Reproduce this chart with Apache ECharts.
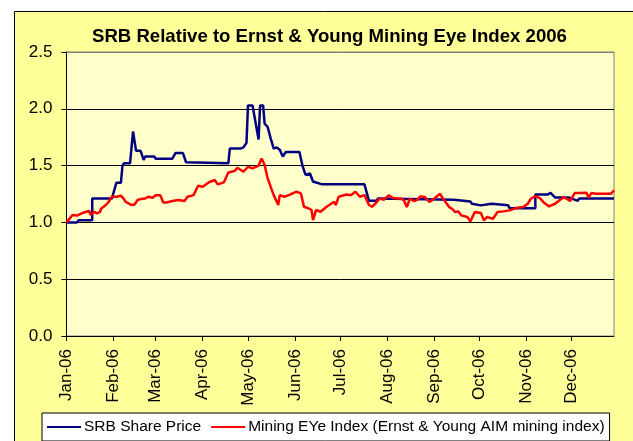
<!DOCTYPE html>
<html>
<head>
<meta charset="utf-8">
<script src="https://cdn.jsdelivr.net/npm/echarts@6/dist/echarts.min.js"></script>
<style>
    html, body { margin: 0; padding: 0; background: #fff; }
    #chart { width: 633px; height: 441px; }
</style>
</head>
<body>
<div id="chart"></div>
<script>
// x = days since 1 Jan 2006, y = price relative to 1 Jan
const monthStarts = [0, 31, 59, 90, 120, 151, 181, 212, 243, 273, 304, 334]
const monthLabels = ['Jan-06', 'Feb-06', 'Mar-06', 'Apr-06', 'May-06', 'Jun-06',
    'Jul-06', 'Aug-06', 'Sep-06', 'Oct-06', 'Nov-06', 'Dec-06']

const srbData = [
    [0, 1.00], [7, 1.00], [8, 1.02], [17, 1.02], [17, 1.21], [30, 1.21], [33, 1.35], [36, 1.35],
    [37, 1.50], [38, 1.52], [42, 1.52], [44, 1.80], [46, 1.63], [49, 1.63], [51, 1.55], [52, 1.58],
    [58, 1.58], [59, 1.56], [70, 1.56], [72, 1.61], [77, 1.61], [79, 1.53], [80, 1.52], [107, 1.52],
    [108, 1.65], [115, 1.65], [117, 1.66], [119, 1.70], [120, 2.03], [123, 2.03], [127, 1.73],
    [128, 2.03], [130, 2.03], [131, 1.87], [133, 1.84], [135, 1.74], [137, 1.65], [139, 1.66],
    [141, 1.64], [143, 1.58], [145, 1.62], [154, 1.62], [156, 1.50], [158, 1.42], [161, 1.43],
    [163, 1.36], [169, 1.335], [197, 1.335], [200, 1.19], [205, 1.19], [206, 1.21], [256, 1.20],
    [257, 1.185], [267, 1.185], [268, 1.165], [274, 1.15], [275, 1.165], [281, 1.165], [282, 1.15],
    [292, 1.15], [293, 1.125], [310, 1.125], [310, 1.245], [318, 1.245], [320, 1.26], [323, 1.22],
    [332, 1.22], [338, 1.19], [339, 1.21], [362, 1.21]
]

const eyeData = [
    [0, 1.00], [4, 1.065], [7, 1.06], [10, 1.08], [13, 1.094], [15, 1.10], [16, 1.065], [18, 1.094],
    [20, 1.08], [22, 1.09], [23, 1.123], [26, 1.153], [28, 1.182], [30, 1.226], [31, 1.24], [33, 1.226],
    [36, 1.235], [38, 1.205], [39, 1.182], [41, 1.167], [43, 1.153], [45, 1.158], [47, 1.197], [49, 1.205],
    [52, 1.21], [54, 1.226], [57, 1.217], [59, 1.24], [62, 1.24], [64, 1.176], [66, 1.176], [70, 1.188],
    [74, 1.197], [78, 1.188], [80, 1.226], [84, 1.24], [87, 1.323], [90, 1.314], [94, 1.352], [98, 1.373],
    [100, 1.335], [104, 1.352], [107, 1.44], [111, 1.452], [113, 1.481], [117, 1.446], [120, 1.49],
    [123, 1.475], [127, 1.50], [129, 1.563], [131, 1.505], [133, 1.387], [137, 1.24], [140, 1.153],
    [141, 1.24], [144, 1.226], [147, 1.24], [152, 1.27], [155, 1.255], [157, 1.138], [160, 1.123],
    [162, 1.109], [163, 1.02], [165, 1.109], [168, 1.094], [172, 1.138], [177, 1.182], [178, 1.153],
    [180, 1.226], [185, 1.246], [188, 1.24], [191, 1.27], [194, 1.226], [197, 1.24], [200, 1.153],
    [202, 1.138], [205, 1.176], [207, 1.21], [210, 1.20], [213, 1.238], [216, 1.214], [221, 1.208],
    [223, 1.20], [225, 1.135], [227, 1.208], [230, 1.188], [232, 1.20], [234, 1.229], [237, 1.223],
    [240, 1.18], [243, 1.208], [247, 1.252], [249, 1.208], [253, 1.135], [255, 1.12], [257, 1.091],
    [259, 1.097], [261, 1.062], [265, 1.047], [267, 1.009], [270, 1.091], [274, 1.082], [276, 1.018],
    [278, 1.047], [280, 1.04], [282, 1.032], [285, 1.091], [289, 1.097], [293, 1.106], [297, 1.126],
    [302, 1.135], [305, 1.164], [307, 1.208], [310, 1.232], [313, 1.214], [316, 1.17], [319, 1.141],
    [323, 1.164], [326, 1.194], [329, 1.223], [333, 1.188], [336, 1.258], [339, 1.258], [344, 1.26],
    [345, 1.217], [347, 1.258], [350, 1.252], [360, 1.252], [362, 1.282]
]

const font = 'Liberation Sans, Arial, sans-serif'
let myChart = echarts.init(document.getElementById('chart'))
let option = {
    animation: false,
    backgroundColor: '#fff',
    graphic: [
        {
            type: 'rect',
            z: -10,
            shape: { x: 14.5, y: 11.5, width: 640, height: 450 },
            style: { fill: '#FFFF99', stroke: '#000', lineWidth: 1 },
        },
    ],
    title: {
        text: 'SRB Relative to Ernst & Young Mining Eye Index 2006',
        left: 87,
        top: 22,
        textStyle: { fontFamily: font, fontSize: 18.6, fontWeight: 'bold', color: '#000' },
    },
    legend: {
        data: ['SRB Share Price', 'Mining EYe Index (Ernst & Young AIM mining index)'],
        left: 42,
        top: 413,
        padding: [6, 5, 6, 5],
        itemGap: 10,
        itemWidth: 34,
        itemHeight: 2,
        icon: 'rect',
        backgroundColor: '#fff',
        borderColor: '#000',
        borderWidth: 1,
        textStyle: { fontFamily: font, fontSize: 15.5, color: '#000', padding: [0, 0, 0, -2] },
    },
    grid: {
        left: 66.5,
        right: 19,
        top: 52,
        bottom: 105,
        show: true,
        backgroundColor: '#FFFFCC',
        borderColor: '#808080',
        borderWidth: 1,
    },
    xAxis: {
        type: 'value',
        min: 0,
        max: 362,
        axisLine: { lineStyle: { color: '#000', width: 1 } },
        axisTick: { show: true, length: 5, inside: false, customValues: monthStarts, lineStyle: { color: '#000' } },
        axisLabel: {
            customValues: monthStarts,
            rotate: 90,
            margin: 13,
            fontFamily: font,
            fontSize: 17,
            color: '#000',
            formatter: (v) => monthLabels[monthStarts.indexOf(v)],
        },
        splitLine: { show: false },
    },
    yAxis: {
        type: 'value',
        min: 0,
        max: 2.5,
        interval: 0.5,
        axisLine: { show: true, lineStyle: { color: '#000', width: 1 } },
        axisTick: { show: true, length: 5, lineStyle: { color: '#000' } },
        axisLabel: {
            margin: 14,
            fontFamily: font,
            fontSize: 17,
            color: '#000',
            formatter: (v) => v.toFixed(1),
        },
        splitLine: { show: true, lineStyle: { color: ['#000', '#000', '#000', '#000', '#000', '#808080'], width: 1 } },
    },
    series: [
        {
            name: 'SRB Share Price',
            type: 'line',
            data: srbData,
            showSymbol: false,
            color: '#000080',
            lineStyle: { width: 2.5, color: '#000080' },
        },
        {
            name: 'Mining EYe Index (Ernst & Young AIM mining index)',
            type: 'line',
            data: eyeData,
            showSymbol: false,
            color: '#FF0000',
            lineStyle: { width: 2.5, color: '#FF0000' },
        },
    ],
}
myChart.setOption(option)
</script>
</body>
</html>
